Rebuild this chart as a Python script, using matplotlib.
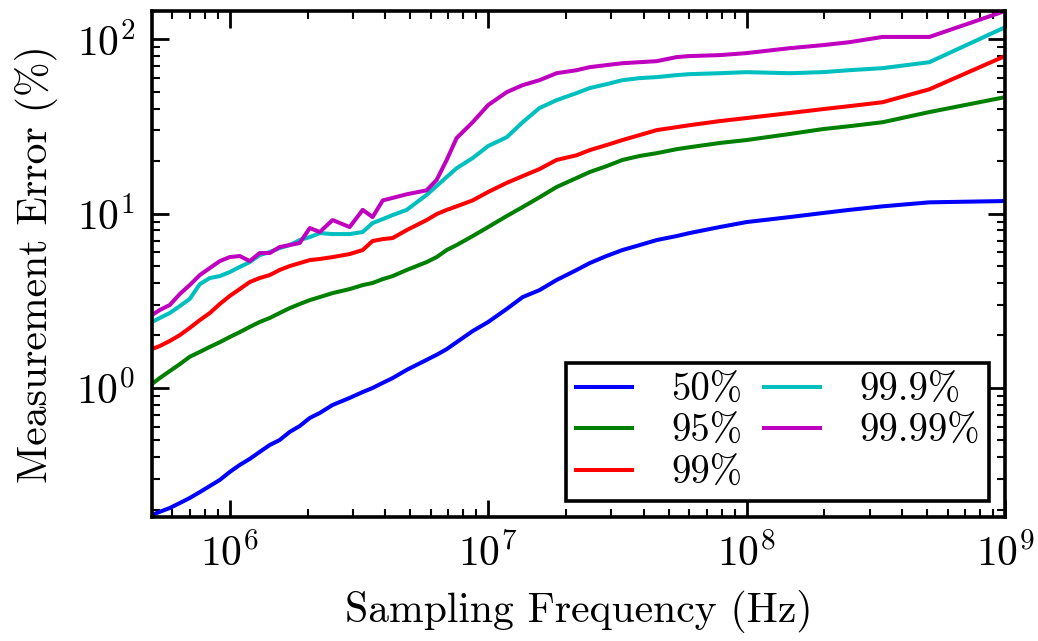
import matplotlib as mpl

mpl.use('Agg')

import matplotlib.pyplot as plt
import numpy as np

plt.rcParams['font.family'] = 'serif'
plt.rcParams['font.serif'] = ['cmr10']
plt.rcParams['mathtext.fontset'] = 'cm'
plt.rcParams['axes.formatter.use_mathtext'] = True
plt.rcParams['axes.unicode_minus'] = False
plt.rcParams['font.size'] = 30

#   sampling frequencies (Hz)
freq = [5.0e5, 5.36e5, 5.86e5, 6.41e5, 7.0e5, 7.66e5, 8.37e5, 9.15e5, 1.0e6, 1.093e6,
        1.195e6, 1.306e6, 1.428e6, 1.56e6, 1.706e6, 1.865e6, 2.04e6, 2.23e6, 2.5e6, 2.91e6,
        3.27e6, 3.57e6, 3.91e6, 4.27e6, 4.84e6, 5.78e6, 6.32e6, 6.91e6, 7.55e6, 8.71e6,
        1.0e7, 1.18e7, 1.36e7, 1.58e7, 1.84e7, 2.2e7, 2.47e7, 2.87e7, 3.31e7, 3.86e7,
        4.49e7, 5.36e7, 6.01e7, 7.87e7, 1.0e8, 1.47e8, 1.97e8, 2.5e8, 3.36e8, 5.1e8, 1.0e9]

#   measurement error (%) per percentile
err_50 = [0.187, 0.195, 0.205, 0.219, 0.234, 0.253, 0.274, 0.297, 0.330, 0.362,
          0.392, 0.430, 0.471, 0.503, 0.560, 0.605, 0.673, 0.719, 0.799, 0.877,
          0.948, 1.00, 1.07, 1.14, 1.27, 1.45, 1.55, 1.67, 1.83, 2.12,
          2.39, 2.84, 3.32, 3.64, 4.16, 4.75, 5.20, 5.71, 6.18, 6.60,
          7.05, 7.43, 7.73, 8.37, 8.94, 9.55, 10.07, 10.5, 11.0, 11.6, 11.8]
err_95 = [1.054, 1.14, 1.25, 1.37, 1.51, 1.61, 1.72, 1.83, 1.96, 2.09,
          2.24, 2.39, 2.52, 2.69, 2.87, 3.03, 3.19, 3.32, 3.50, 3.69,
          3.89, 4.00, 4.21, 4.38, 4.75, 5.27, 5.63, 6.18, 6.60, 7.43,
          8.37, 9.68, 10.9, 12.4, 14.2, 16.0, 17.3, 18.7, 20.3, 21.4,
          22.2, 23.4, 24.0, 25.4, 26.4, 28.6, 30.5, 31.7, 33.4, 38.2, 46.5]
err_99 = [1.673, 1.74, 1.86, 2.01, 2.21, 2.45, 2.69, 3.03, 3.37, 3.69,
          4.05, 4.27, 4.44, 4.75, 5.00, 5.20, 5.41, 5.49, 5.63, 5.86,
          6.18, 6.96, 7.14, 7.24, 8.04, 9.18, 9.93, 10.5, 11.0, 11.9,
          13.3, 15.0, 16.4, 18.0, 20.3, 21.6, 23.1, 24.7, 26.4, 28.2,
          30.1, 31.3, 32.1, 33.9, 35.3, 37.7, 39.7, 41.3, 43.5, 51.6, 80.0]
err_999 = [2.39, 2.52, 2.69, 2.95, 3.24, 3.94, 4.27, 4.38, 4.62, 4.94,
           5.27, 5.78, 6.02, 6.34, 6.60, 7.05, 7.33, 7.73, 7.63, 7.63,
           7.84, 8.82, 9.30, 9.80, 10.5, 12.8, 14.4, 16.2, 18.2, 20.8,
           24.4, 27.4, 33.4, 40.3, 44.7, 49.1, 52.4, 55.2, 58.2, 59.8,
           60.6, 62.2, 63.0, 63.8, 64.7, 63.8, 64.7, 66.4, 68.2, 73.8, 117]
err_9999 = [2.62, 2.80, 2.99, 3.46, 3.89, 4.44, 4.87, 5.34, 5.63, 5.71,
            5.34, 5.94, 5.94, 6.43, 6.60, 6.78, 8.26, 7.84, 9.18, 8.37,
            10.5, 9.55, 11.9, 12.3, 12.9, 13.6, 15.6, 20.3, 27.1, 33.4,
            41.9, 49.7, 54.5, 58.2, 63.8, 66.4, 69.1, 71.0, 72.8, 73.8,
            74.8, 78.9, 80.0, 81.0, 83.2, 88.8, 92.4, 96.1, 103, 103, 145]

labels = ['50%', '95%', '99%', '99.9%', '99.99%']
colors = ['b', 'g', 'r', 'c', 'm']


def main():
    fig = plt.figure(figsize=(10.38, 6.41), dpi=100)
    ax = fig.add_axes([0.1464, 0.1934, 0.8218, 0.7894])

    series = [err_50, err_95, err_99, err_999, err_9999]
    for values, label, color in zip(series, labels, colors):
        ax.plot(freq, values, color=color, lw=2.9, label=label)

    ax.set_xscale('log')
    ax.set_yscale('log')
    ax.set_xlim(5e5, 1e9)
    ax.set_ylim(0.182, 145)

    for side in ax.spines.values():
        side.set_linewidth(2.6)
    ax.tick_params(which='both', direction='in', top=True, right=True)
    ax.tick_params(which='major', length=12, width=2.0, pad=12)
    ax.tick_params(which='minor', length=6, width=1.5)

    ax.set_xlabel('Sampling Frequency (Hz)', labelpad=11)
    ax.set_ylabel('Measurement Error (%)', labelpad=13)

    leg = ax.legend(loc='lower right', ncol=2, fancybox=False, framealpha=1,
                    handlelength=1.45, handletextpad=1.0, columnspacing=0.55,
                    labelspacing=0.15, borderpad=0.25, borderaxespad=0.4,
                    fontsize=28)
    leg.get_frame().set_edgecolor('black')
    leg.get_frame().set_linewidth(2.6)

    fig.savefig('out.png', dpi=100)
    plt.close()


if __name__ == '__main__':
    main()
